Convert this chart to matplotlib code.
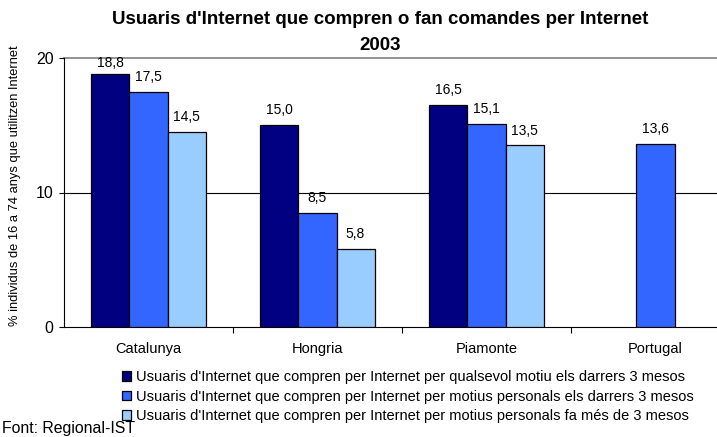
import matplotlib.pyplot as plt
import numpy as np

plt.rcParams['font.family'] = ['Liberation Sans', 'DejaVu Sans']

regions = ['Catalunya', 'Hongria', 'Piamonte', 'Portugal']
series_names = [
    "Usuaris d'Internet que compren per Internet per qualsevol motiu els darrers 3 mesos",
    "Usuaris d'Internet que compren per Internet per motius personals els darrers 3 mesos",
    "Usuaris d'Internet que compren per Internet per motius personals fa més de 3 mesos",
]
qualsevol_3m = [18.8, 15.0, 16.5, np.nan]
personals_3m = [17.5, 8.5, 15.1, 13.6]
personals_mes3m = [14.5, 5.8, 13.5, np.nan]
colors = ['#000080', '#3366FF', '#99CCFF']

fig = plt.figure(figsize=(7.17, 4.37), dpi=100)
# the plot area runs past the right edge of the image, as in the original
ax = fig.add_axes([64 / 717, 110 / 437, (740 - 64) / 717, 269 / 437])

x = np.arange(len(regions))
w = 0.225
for i, (vals, c, name) in enumerate(zip([qualsevol_3m, personals_3m, personals_mes3m], colors, series_names)):
    pos = x + (i - 1) * w
    ax.bar(pos, vals, w, color=c, edgecolor='black', linewidth=0.9, label=name, zorder=3)
    for p, v in zip(pos, vals):
        if not np.isnan(v):
            # label above bar, squeezed under the top of the plot when needed
            ax.text(p, min(v + 1.1, 19.6), f'{v:.1f}'.replace('.', ','),
                    ha='center', va='center', fontsize=10, zorder=4)

ax.set_xlim(-0.5, 3.5)
ax.set_ylim(0, 20)
ax.axhline(10, color='black', linewidth=0.8, zorder=1)
ax.axhline(20, color='#808080', linewidth=1.2, zorder=1, clip_on=False)

ax.set_yticks([0, 10, 20])
ax.tick_params(axis='y', direction='out', length=3.6, pad=4, labelsize=11.5, width=0.8)
ax.set_xticks(x)
ax.set_xticklabels(regions, fontsize=10.5)
ax.tick_params(axis='x', length=0, pad=11)
ax.set_xticks(x[:-1] + 0.5, minor=True)
ax.tick_params(axis='x', which='minor', direction='out', length=4, width=0.8)

for s in ['top', 'right']:
    ax.spines[s].set_visible(False)
ax.spines['left'].set_linewidth(0.8)
ax.spines['bottom'].set_linewidth(0.8)

fig.text(15 / 717, 1 - 186 / 437, '% individus de 16 a 74 anys que utilitzen Internet',
         rotation=90, ha='center', va='center', fontsize=9.3)

fig.text(380 / 717, 1 - 20 / 437, "Usuaris d'Internet que compren o fan comandes per Internet",
         ha='center', va='center', fontsize=13.5, fontweight='bold')
fig.text(380 / 717, 1 - 45 / 437, '2003', ha='center', va='center', fontsize=13.5, fontweight='bold')

fig.legend(loc='upper left', bbox_to_anchor=(122 / 717, 1 - 370 / 437), frameon=False,
           fontsize=10.5, handlelength=0.62, handleheight=0.62, handletextpad=0.35,
           labelspacing=0.38, borderaxespad=0, borderpad=0)

fig.text(2 / 717, 1 - 428 / 437, 'Font: Regional-IST', ha='left', va='center', fontsize=11.4)

fig.savefig('out.png', dpi=100)
